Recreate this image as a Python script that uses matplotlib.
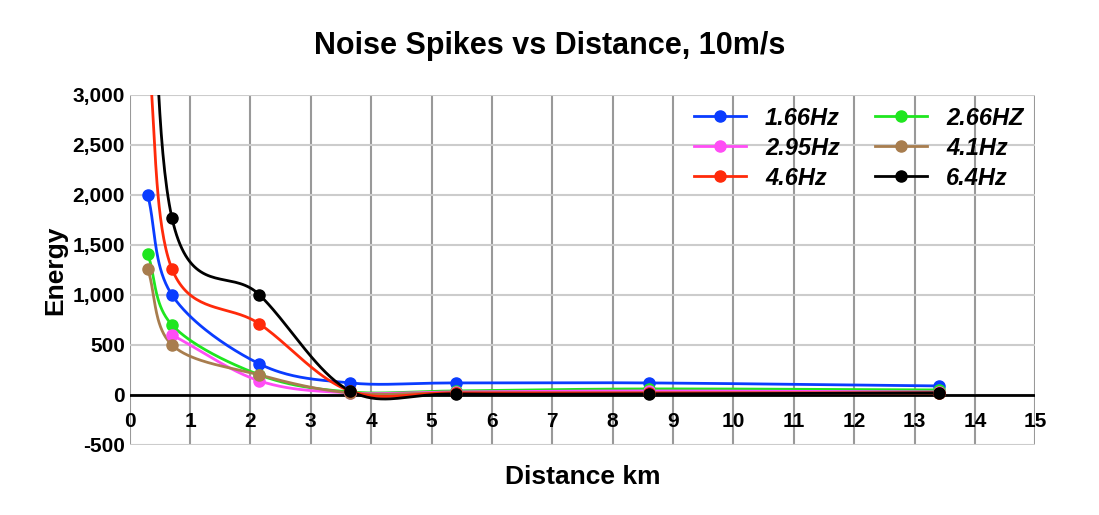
import numpy as np
import matplotlib.pyplot as plt

plt.rcParams['font.family'] = ['Liberation Sans', 'DejaVu Sans']

distance = [0.3, 0.7, 2.15, 3.65, 5.4, 8.6, 13.4]
hz_166 = [2000, 1000, 310, 120, 120, 120, 90]
hz_266 = [1410, 700, 200, 30, 40, 60, 50]
hz_295 = [None, 600, 140, 20, 30, 40, 30]
hz_41 = [1260, 500, 200, 20, 20, 20, 20]
hz_46 = [3500, 1260, 710, 40, 20, 20, 20]
hz_64 = [6000, 1770, 1000, 40, 10, 10, 20]

series = [
    ('1.66Hz', hz_166, '#0a3cff'),
    ('2.66HZ', hz_266, '#1fe61f'),
    ('2.95Hz', hz_295, '#ff4df5'),
    ('4.1Hz', hz_41, '#a87d4e'),
    ('4.6Hz', hz_46, '#ff2a0a'),
    ('6.4Hz', hz_64, '#000000'),
]


def smooth(x, y, n=40):
    # Catmull-Rom through the points
    x = np.asarray(x, float); y = np.asarray(y, float)
    px = np.concatenate([[2 * x[0] - x[1]], x, [2 * x[-1] - x[-2]]])
    py = np.concatenate([[2 * y[0] - y[1]], y, [2 * y[-1] - y[-2]]])
    xs, ys = [], []
    t = np.linspace(0, 1, n)
    for i in range(1, len(px) - 2):
        for arr, out in ((px, xs), (py, ys)):
            p0, p1, p2, p3 = arr[i - 1:i + 3]
            out.extend(0.5 * (2 * p1 + (-p0 + p2) * t + (2 * p0 - 5 * p1 + 4 * p2 - p3) * t ** 2
                              + (-p0 + 3 * p1 - 3 * p2 + p3) * t ** 3))
    return np.array(xs), np.array(ys)


fig = plt.figure(figsize=(10.99, 5.15), dpi=100)
ax = fig.add_axes([0.118, 0.136, 0.824, 0.68])

for name, vals, col in series:
    pts = [(d, v) for d, v in zip(distance, vals) if v is not None]
    xs = [p[0] for p in pts]; ys = [p[1] for p in pts]
    sx, sy = smooth(xs, ys)
    ax.plot(sx, sy, color=col, lw=2, zorder=3)
    ax.plot(xs, ys, 'o', color=col, ms=8, zorder=4)
    ax.plot([], [], '-o', color=col, lw=2, ms=8, label=name)

ax.set_xlim(0, 15)
ax.set_ylim(-500, 3000)
ax.set_xticks(range(16))
ax.set_yticks(range(-500, 3001, 500))
ax.set_yticklabels([f'{v:,}' for v in range(-500, 3001, 500)])
ax.grid(axis='x', color='#999999', lw=1.5)
ax.grid(axis='y', color='#cccccc', lw=1.5)
ax.axhline(0, color='black', lw=2, zorder=2)
for s in ax.spines.values():
    s.set_visible(False)
ax.tick_params(length=0, labelsize=15)
ax.tick_params(axis='x', pad=-24)
for lab in ax.get_xticklabels() + ax.get_yticklabels():
    lab.set_fontweight('bold')
fig.text(0.53, 0.06, 'Distance km', ha='center', fontsize=19, fontweight='bold')
ax.set_ylabel('Energy', fontsize=19, fontweight='bold', labelpad=4)
fig.suptitle('Noise Spikes vs Distance, 10m/s', fontsize=22, fontweight='bold', y=0.94)

handles, labels = ax.get_legend_handles_labels()
order = [0, 2, 4, 1, 3, 5]
leg = ax.legend([handles[i] for i in order], [labels[i] for i in order], ncol=2,
                loc='upper right', frameon=False, handlelength=2.2,
                columnspacing=1.5, borderaxespad=0.1, labelspacing=0.3,
                prop={'family': 'Liberation Sans', 'size': 17, 'weight': 'bold', 'style': 'italic'})
fig.savefig('out.png')
